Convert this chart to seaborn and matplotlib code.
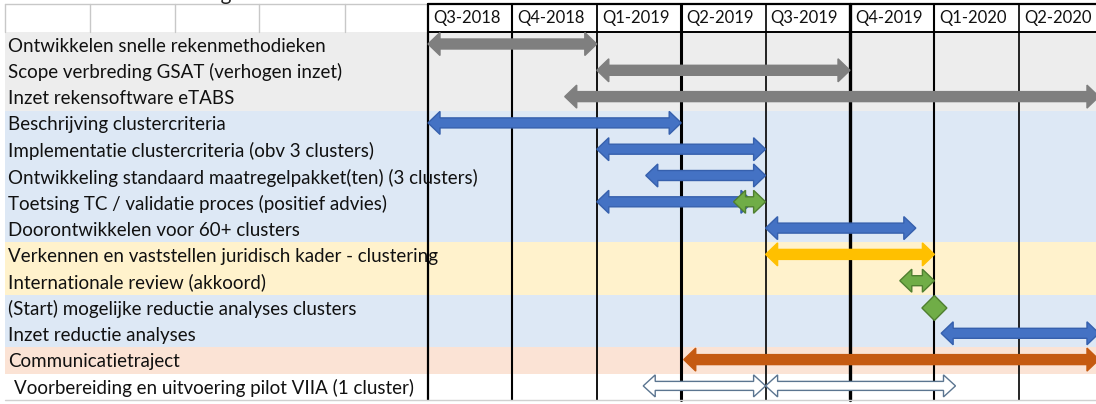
import matplotlib
matplotlib.use("Agg")
import matplotlib.pyplot as plt
from matplotlib.patches import Polygon
import seaborn as sns

# taken en groepen (achtergrondkleur per rij)
taken = [
    "Ontwikkelen snelle rekenmethodieken",
    "Scope verbreding GSAT (verhogen inzet)",
    "Inzet rekensoftware eTABS",
    "Beschrijving clustercriteria",
    "Implementatie clustercriteria (obv 3 clusters)",
    "Ontwikkeling standaard maatregelpakket(ten) (3 clusters)",
    "Toetsing TC / validatie proces (positief advies)",
    "Doorontwikkelen voor 60+ clusters",
    "Verkennen en vaststellen juridisch kader - clustering",
    "Internationale review (akkoord)",
    "(Start) mogelijke reductie analyses clusters",
    "Inzet reductie analyses",
    "Communicatietraject",
    "Voorbereiding en uitvoering pilot VIIA (1 cluster)",
]
groepen = ["rekenen"] * 3 + ["clusters"] * 5 + ["juridisch"] * 2 + ["reductie"] * 2 + ["communicatie", "pilot"]
kwartalen = ["Q3-2018", "Q4-2018", "Q1-2019", "Q2-2019", "Q3-2019", "Q4-2019", "Q1-2020", "Q2-2020"]

# pijlen: rij, start en eind in kwartalen vanaf Q3-2018, soort
pijl_rij = [0, 1, 2, 3, 4, 5, 6, 6, 7, 8, 9, 11, 12, 13, 13]
pijl_start = [0.0, 2.0, 1.62, 0.0, 2.0, 2.58, 2.0, 3.62, 4.0, 4.0, 5.59, 6.08, 3.03, 2.55, 4.0]
pijl_eind = [2.0, 5.0, 7.95, 3.0, 4.0, 4.0, 3.85, 4.0, 5.78, 6.0, 6.0, 7.95, 7.95, 4.0, 6.25]
pijl_soort = ["grijs", "grijs", "grijs", "blauw", "blauw", "blauw", "blauw", "groen",
              "blauw", "geel", "groen", "blauw", "oranje", "wit", "wit"]
mijlpaal_rij = [10]
mijlpaal_x = [6.0]

groep_kleur = {"rekenen": "#ededed", "clusters": "#dde8f5", "juridisch": "#fff2cc",
               "reductie": "#dde8f5", "communicatie": "#fbe3d5", "pilot": "#ffffff"}
pijl_stijl = {"grijs": ("#7f7f7f", "#7f7f7f"), "blauw": ("#4472c4", "#3660ad"),
              "groen": ("#70ad47", "#4f7f30"), "geel": ("#ffc000", "#ffc000"),
              "oranje": ("#c55a11", "#c55a11"), "wit": ("#ffffff", "#5b7590")}

sns.set_theme(style="white")
plt.rcParams["font.family"] = ["Lato", "DejaVu Sans"]

# pixel-schaal van de tijdlijn
KW = 84.4      # px per kwartaal
RIJ = 26.3     # px per rij
X0 = 428 - 5   # breedte labelkolom in px
px = lambda p: p / KW
py = lambda p: p / RIJ
LAB = px(X0)

fig = plt.figure(figsize=(10.96, 4.04), dpi=100)
ax = fig.add_axes([0, 0, 1, 1])

sns.barplot(x=[px(1096) + 0.2] * len(taken), y=taken, hue=groepen, palette=groep_kleur,
            width=1.0, dodge=False, orient="h", saturation=1, linewidth=0,
            legend=False, ax=ax)

ax.set_xlim(-px(5), px(1096 - 5))
ax.set_ylim(py(404 - 45), -py(45))
ax.axis("off")

# titel (grotendeels buiten beeld, zoals in het origineel)
ax.text(px(232 - 5), -py(45 - 0.5), "Planning", ha="right", va="baseline", fontsize=15, color="#222222")

# kop in labelkolom
kop_top, kop_bot = -py(45 - 4), -0.5
for xp in [5, 90, 175, 259, 345]:
    ax.plot([px(xp - 5)] * 2, [kop_top, kop_bot], color="#c8c8c8", lw=1.0)
ax.plot([0, LAB], [kop_top, kop_top], color="#c8c8c8", lw=1.0)

# kop tijdlijn
ax.plot([LAB, px(1096)], [kop_top, kop_top], color="black", lw=1.6)
ax.plot([LAB, px(1096)], [kop_bot, kop_bot], color="black", lw=1.4)
for i, kw in enumerate(kwartalen):
    ax.text(LAB + i + px(5), (kop_top + kop_bot) / 2, kw, ha="left", va="center",
            fontsize=12, color="#111111")

# kwartaalgrenzen
dikte = [1.6, 1.5, 1.3, 2.2, 1.2, 2.4, 1.5, 1.2]
for i, lw in enumerate(dikte):
    ax.plot([LAB + i] * 2, [kop_top, 13.5], color="black", lw=lw, zorder=3)

ax.plot([0, px(1096)], [13.5, 13.5], color="#d0d0d0", lw=1.0, zorder=3)

# labels
for i, t in enumerate(taken):
    ins = 9 if i == len(taken) - 1 else 3
    ax.text(px(ins), i + py(1), t, ha="left", va="center", fontsize=13.5, color="#111111")


def dubbele_pijl(x0, x1, yc, fc, ec, schacht=5.0, kop=11.5, lengte=12.0):
    hl, hh, sh = px(lengte), py(kop), py(schacht)
    pts = [(x0, yc), (x0 + hl, yc - hh), (x0 + hl, yc - sh), (x1 - hl, yc - sh),
           (x1 - hl, yc - hh), (x1, yc), (x1 - hl, yc + hh), (x1 - hl, yc + sh),
           (x0 + hl, yc + sh), (x0 + hl, yc + hh)]
    ax.add_patch(Polygon(pts, closed=True, facecolor=fc, edgecolor=ec, lw=1.0, zorder=5))


for r, s, e, k in zip(pijl_rij, pijl_start, pijl_eind, pijl_soort):
    fc, ec = pijl_stijl[k]
    yc = r - py(1)
    if k == "wit":
        dubbele_pijl(LAB + s, LAB + e, yc, fc, ec, schacht=4.5, kop=11)
    else:
        dubbele_pijl(LAB + s, LAB + e, yc, fc, ec)

for r, x in zip(mijlpaal_rij, mijlpaal_x):
    xc, yc = LAB + x, r
    d, h = px(12.5), py(12.5)
    ax.add_patch(Polygon([(xc - d, yc), (xc, yc - h), (xc + d, yc), (xc, yc + h)],
                         closed=True, facecolor="#70ad47", edgecolor="#4f7f30", lw=1.0, zorder=5))

plt.savefig("out.png", dpi=100)
